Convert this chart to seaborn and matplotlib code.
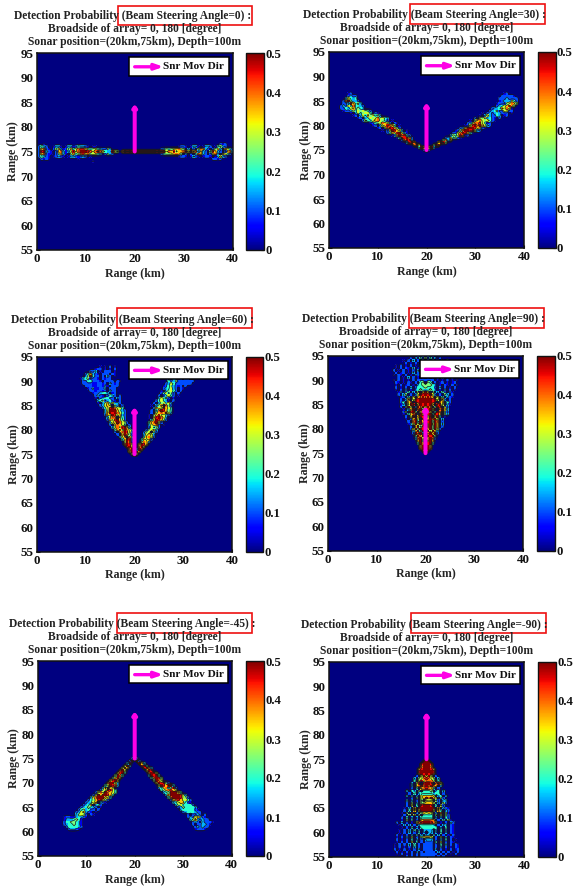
# Detection probability maps for six beam steering angles
import numpy as np
import pandas as pd
import seaborn as sns
from matplotlib import pyplot as plt
from matplotlib.patches import Rectangle

# values on a 0.5 km grid
# one character = one cell, hex digit * 0.05 = probability, '.' = 0
# row format: (range y km, range x km of first cell, cells)
rows_0 = [
    (76.5, 1.5, "1"), (76.5, 37.5, "212"),
    (76, 0.5, "2432..1331.1331243321.11"), (76, 29, "1221.1331.1332.14532"),
    (75.5, 0.5, "27821.257312574689975456432253"), (75.5, 25.5, "2354567865.3.2.58732.2573.7642"),
    (75, 0.5, "29a321.2783136968aaa9868986433965.8a9a9aaaaaaaaa9a9a6879677896a783732.59732.278398432"),
    (74.5, 0.5, "278211.25731.5745897856643.2532"), (74.5, 25.5, "245567875.3.2.48732.2683.7642"),
    (74, 0.5, "24321.12321.13321232.1"), (74, 29, "1221.1321.1221.13632"),
    (73.5, 1, "2121"), (73.5, 8.5, "1"), (73.5, 36, "2212"),
    (73, 11.5, "1"),
]
rows_30 = [
    (75, 19.5, "2a2"),
    (75.5, 18.5, "4a7"), (75.5, 20.5, "6a3"),
    (76, 17.5, "8a6"), (76, 21.5, "5a9"),
    (76.5, 16, "39a8"), (76.5, 22.5, "7a95"),
    (77, 15, "28a93"), (77, 23.5, "5837"),
    (77.5, 14, "14a9a72"), (77.5, 24, "2374521"),
    (78, 13, "137a8942"), (78, 25, "35469812"),
    (78.5, 12, "24769a631"), (78.5, 25.5, "2268a9741"),
    (79, 11, "1.26a9763.1"), (79, 26, "1258aa9a632"),
    (79.5, 10, "12.58a9752"), (79.5, 27, "237aaa97621"),
    (80, 9, "12.3679874.1"), (80, 28, "1269a8a7632"),
    (80.5, 8.5, "124568763.21"), (80.5, 28.5, "2368896412"),
    (81, 7, "25446786542.1"), (81, 29, "1.578656421"),
    (81.5, 6, "12.3465685643"), (81.5, 30, "2.6573421.2"),
    (82, 5, "12.364756453"), (82, 31, "1.3632243.12"),
    (82.5, 4.5, "1.3645664.21"), (82.5, 31.5, "1.232343222.1"),
    (83, 3, "122354656542"), (83, 33, "2345226622"),
    (83.5, 2.5, "2243674543"), (83.5, 33.5, "233476861"),
    (84, 2.5, "2326484432"), (84, 34.5, "23467975"),
    (84.5, 3, "223a7453"), (84.5, 34.5, "122256875"),
    (85, 3, "28a5332"), (85, 35, "12333642"),
    (85.5, 3.5, "36434"), (85.5, 35, "22232222"),
    (86, 4, "2322"), (86, 35.5, "222221"),
    (86.5, 4, "12"), (86.5, 36, "12"),
]
rows_60 = [
    (75, 19.5, "6a6"), (75.5, 19, "7a8a7"),
    (76, 19, "8a3"), (76, 20.5, "3a8"),
    (76.5, 18.5, "9a7"), (76.5, 21, "8a6"),
    (77, 18, "8a96"), (77, 21, "7a97"),
    (77.5, 18, "6a82"), (77.5, 21.5, "6873"),
    (78, 17.5, "47a93"), (78, 21.5, "47672"),
    (78.5, 17, "368.74"), (78.5, 22, "47862"),
    (79, 16.5, "2.7a852"), (79, 22, "36763"),
    (79.5, 16, "2.68a963"), (79.5, 22, "256.52"),
    (80, 16, "4796a864"), (80, 22.5, "25673"),
    (80.5, 15.5, "36869a73"), (80.5, 23, "26452"),
    (81, 15, "2.68764.2"), (81, 23, "36782.1"),
    (81.5, 15, "367a8652"), (81.5, 23, "478a62"),
    (82, 14.5, "2769a752"), (82, 23.5, "47a9752"),
    (82.5, 14.5, "3688.742"), (82.5, 23, "1.69a863"),
    (83, 14, "276a96732"), (83, 23, "1.5796642"),
    (83.5, 14, "37a9a8642"), (83.5, 23.5, "2.6787a63"),
    (84, 14, "36aaa7532"), (84, 23.5, "2.48a9754"),
    (84.5, 13.5, "2469a8664"), (84.5, 24, "3766a764"),
    (85, 13, "23676.53.2"), (85, 23.5, "1.357.852"),
    (85.5, 12.5, "1.35746332"), (85.5, 24, "2.356463"),
    (86, 12.5, "34523421.2"), (86, 24.5, "246431.2"),
    (86.5, 12, "1.234422.32"), (86.5, 25, "36452.1"),
    (87, 12, "2321.2432.2"), (87, 25, "2.24642.1"),
    (87.5, 11.5, "1223443.12"), (87.5, 25.5, "246452.2"),
    (88, 11, "2212212.322"), (88, 25.5, "1.35642.2"),
    (88.5, 10.5, "12311223.222"), (88.5, 26, "234632.21"),
    (89, 10, "2221122131.222"), (89, 26, "12453212.2"),
    (89.5, 9.5, "2222112212.3212"), (89.5, 26.5, "23642222222"),
    (90, 9.5, "22442221.2222.21"), (90, 27, "42352222222"),
    (90.5, 9, "13452221.2122"), (90.5, 26.5, "12.32.2.22"),
    (91, 10, "359422.2.32.1"), (91, 27, "1"),
    (91.5, 10, "247321.222.21"), (92, 11, "223.1.222.1"),
    (92.5, 12, "122.1.1.2"), (93, 13, "1.1.2.1"),
]
# cone shaped maps, each row is centred on the sonar (20 km)
cone_90 = [
    (75, "9"), (75.5, "9a9"), (76, "8a3a8"), (76.5, "7a8a7"),
    (77, "4a7a9a4"), (77.5, "7a5a8a7"), (78, "38a6a7a82"), (78.5, "5a7a5a9a5"),
    (79, "2a8a3a8a7a2"), (79.5, "37a4a8a6a73"), (80, "26a5a9a7a5a62"), (80.5, "2.7a59a8a5a7.2"),
    (81, "136a6a5a8a6a7.3"), (81.5, "2.8a4a7a9a5a8.2"), (82, "1.27a6.9a7a8a6.3"),
    (82.5, "2.6a.7a9a6a.7a4.1"), (83, "1.478a2a7a9a4a97.53"), (83.5, "25.9a5.7a8a7.4a8.52"),
    (84, "1.37a.8a5a9a6a.8a73"), (84.5, "2.5a6.3a8a7a8.5a9.62"), (85, "13.6a9.7a9a9a7.9a6.31"),
    (85.5, "24.78.a9aaaaa9a.87.42"), (86, "2.37.6a9aaaaa9a6.73.2"), (86.5, "12.4.6.78a8a87.6.4.321"),
    (87, "2.35.2.36a9a9a63.2.53.2"), (87.5, "13.24.3.5.7a7.5.3.42.31"), (88, "1.2.3.1.345434543.1.3.2.1"),
    (88.5, "2.1.2.3.244454442.3.2.1.2"), (89, "1.2.12.1.34555543.1.21.2.1"), (89.5, "21.1.21.2.45.54.2.12.1.12"),
    (90, "1.2.1.1.2.2222222.1.1.2.1.1"), (90.5, "2.1.3.2.1.1.1.1.2.3.1.2"), (91, "1.21.2.1.323443233.1.2.12.1"),
    (91.5, "2.12.1.3.212.212.3.2.1.2"), (92, "2.1.2.1.2.3.1.2.1.2.1.2.1.1"),
    (92.5, "1.2.21.3.12.21.2.1.2.1.1"), (93, "1.2.1.2.1.2.3.1.2.12.1.2.1"),
    (93.5, "2.1.2.12.3.2.1.2.1"), (94, "1.2.3.2.4.3.4.2.1.3"), (94.5, "2.3.4.5.4.3.2"), (95, "2.3.3.2"),
]
rows_m45 = [
    (75, 19.5, "2a2"),
    (74.5, 19, "2a"), (74.5, 20.5, "a2"),
    (74, 18.5, "3a"), (74, 21, "a73"),
    (73.5, 18, "6a3"), (73.5, 21.5, "9a4"),
    (73, 17.5, "6a7"), (73, 22, "9a73"),
    (72.5, 17, "8a6"), (72.5, 22.5, "7a9"),
    (72, 16.5, "79a4"), (72, 23, "8aa6"),
    (71.5, 16, "5a84"), (71.5, 23, "3a9a4"),
    (71, 15.5, "47a7"), (71, 23.5, "48a95"),
    (70.5, 15, "79a7"), (70.5, 24, "5a86"),
    (70, 14.5, "8aa63"), (70, 24.5, "7a9a52"),
    (69.5, 14, "46a983"), (69.5, 25, "6a979a3"),
    (69, 13.5, "37.76"), (69, 25, "34784592"),
    (68.5, 13, "256a964"), (68.5, 25.5, "4578976"),
    (68, 12, "2686a8764"), (68, 26, "345aaa74"),
    (67.5, 11.5, "26a7aa974"), (67.5, 26.5, "37aaaa963"),
    (67, 11, "368aaa763"), (67, 27, "48aaa9652"),
    (66.5, 10.5, "24579a752"), (66.5, 27.5, "278976642"),
    (66, 10, "23467.321"), (66, 28, "34677421"),
    (65.5, 9.5, "2347.342"), (65.5, 28.5, "35644442"),
    (65, 9, "2345432.1"), (65, 29, "23544443"),
    (64.5, 8.5, "2453422.2"), (64.5, 29.5, "34444421"),
    (64, 8, "2367321.1"), (64, 30, "23444322"),
    (63.5, 8, "35652.21"), (63.5, 31, "2.2232.2"),
    (63, 5.5, "1221134321"), (63, 31, "23267521"),
    (62.5, 5.5, "13334541"), (62.5, 31.5, "35732322"),
    (62, 5.5, "24455431"), (62, 32, "232.32221"),
    (61.5, 5.5, "23445431"), (61.5, 32, "2.223321"),
    (61, 6, "2444432"), (61, 32.5, "232322"),
    (60.5, 6.5, "23321"), (60.5, 32.5, "12221"),
]
cone_m90 = [
    (75, "a"), (74.5, "aaa"), (74, "9aaa9"), (73.5, "8aaa8"),
    (73, "79aaa97"), (72.5, "9aaaaa9"), (72, "8a9a9a8"), (71.5, "2.6a7a6.2"),
    (71, "3.5689865.3"), (70.5, "4.6968886.4"), (70, "3.69.9aa9.896"), (69.5, "3.78a8a8a87.3"),
    (69, "2.4.789874.2"), (68.5, "3.43.5.4445.34.3"), (68, "2.4.344444344.2"),
    (67.5, "3.4.3.677776.34.3"), (67, "2.5.67a8a76.52"), (66.5, "3.3.2.5.666.52.33"),
    (66, "2.5.3.567776.3.52"), (65.5, "2.6.4.9aaa9.4.62"), (65, "1.3.7.9aaaaa9.7.321"),
    (64.5, "2.4.7.6aaaaa6.74.32"), (64, "1.5.8.3.57676.3.8.51"), (63.5, "2.5.6.5.4444.5.6.52"),
    (63, "2.4.3.3.44444.3.3.42"), (62.5, "1.5.4.2.788887.2.4.51"), (62, "2.3.2.1.689aaa986.1.2.32"),
    (61.5, "1.3.3.2.3444443.2.33.21"), (61, "1.2.4.3.4444444.3.4.21"),
    (60.5, "1.2.3.4.3.3333.3.4.3.21"), (60, "1.2.3.2.4.3.33.3.4.3.21"), (59.5, "2.1.2.3.4.3.33.4.3.2.1.2"),
    (59, "1.2.3.6.2.56776.2.6.3.21"), (58.5, "2.1.2.4.3.2.333.2.3.4.2.1"), (58, "1.2.2.6.4.2.222.4.6.2.21"),
    (57.5, "1.2.2.3.4.2.2222.2.4.3.2.21"), (57, "1.2.1.2.3.2.2222.2.3.2.1.21"), (56.5, "2.1.2.1.2.3.2222.3.2.1.2.12"),
    (56, "2.1.2.2.3.2.2222.3.2.2.1.2"), (55.5, "1.2.1.2.2.2222222.2.2.1.2"), (55, "2.2.2.222222.2.2"),
]
panel_angles = ["0", "30", "60", "90", "-45", "-90"]
subtitle_2 = "Broadside of array= 0, 180 [degree]"
subtitle_3 = "Sonar position=(20km,75km), Depth=100m"
x_tick_values = [0, 10, 20, 30, 40]
y_tick_values = [55, 60, 65, 70, 75, 80, 85, 90, 95]
cbar_tick_values = [0, 0.1, 0.2, 0.3, 0.4, 0.5]
cbar_tick_labels = ["0", "0.1", "0.2", "0.3", "0.4", "0.5"]
cell_km = 0.5


def cone_to_rows(cone):
    out = []
    for y, cells in cone:
        out.append((y, 20 - (len(cells) - 1) * cell_km / 2, cells))
    return out


all_rows = [rows_0, rows_30, rows_60, cone_to_rows(cone_90), rows_m45, cone_to_rows(cone_m90)]


def to_grid(rows):
    n = int(40 / cell_km) + 1
    grid = np.zeros((n, n))
    for y, x0, cells in rows:
        r = int(round((y - 55) / cell_km))
        c0 = int(round(x0 / cell_km))
        for i, ch in enumerate(cells):
            if ch != "." and 0 <= c0 + i < n and 0 <= r < n:
                grid[r, c0 + i] = int(ch, 16) * 0.05
    return grid


def fx(x):
    return x / cell_km + 0.5


def fy(y):
    return (y - 55) / cell_km + 0.5


# pixel boxes: axes (left, top, right, bottom), colourbar (left, right), red box (l, t, r, b)
W, H = 573, 886
axes_px = [(36.7, 53, 232.7, 250), (329, 52, 524, 248), (37, 356.7, 232, 551.7),
           (328, 355.7, 523, 550.7), (37.7, 661, 231.7, 856), (329, 661.7, 524, 856.7)]
cbar_px = [(246, 264), (537.7, 555.7), (245.5, 263), (537, 555), (246.3, 264), (538, 556)]
red_px = [(118, 6, 252, 25), (410, 4.3, 545, 24.3), (117, 308, 252, 328),
          (409, 308, 544, 328), (117, 613, 252, 633), (410.7, 613, 545.7, 633)]

sns.set_theme(style="white")
plt.rcParams["font.family"] = ["Liberation Serif", "DejaVu Serif"]
plt.rcParams["font.weight"] = "bold"
plt.rcParams["axes.labelweight"] = "bold"

fig = plt.figure(figsize=(W / 100, H / 100), dpi=100)


def px_box(l, t, r, b):
    return [l / W, 1 - b / H, (r - l) / W, (b - t) / H]


for k in range(6):
    l, t, r, b = axes_px[k]
    ax = fig.add_axes(px_box(l, t, r, b))
    cax = fig.add_axes(px_box(cbar_px[k][0], t, cbar_px[k][1], b))
    grid = to_grid(all_rows[k])
    df = pd.DataFrame(grid)
    sns.heatmap(df, ax=ax, cmap="jet", vmin=0, vmax=0.5, cbar_ax=cax,
                xticklabels=False, yticklabels=False,
                cbar_kws={"ticks": cbar_tick_values})
    # black contour lines on top, as in the source figure
    ax.contour(np.arange(grid.shape[1]) + 0.5, np.arange(grid.shape[0]) + 0.5, grid,
               levels=[0.03, 0.12, 0.22, 0.32, 0.42], colors="k", linewidths=0.5)
    ax.set_xlim(fx(0), fx(40))
    ax.set_ylim(fy(55), fy(95))
    ax.set_xticks([fx(v) for v in x_tick_values])
    ax.set_xticklabels([str(v) for v in x_tick_values], fontsize=9.4, fontweight="bold")
    ax.set_yticks([fy(v) for v in y_tick_values])
    ax.set_yticklabels([str(v) for v in y_tick_values], fontsize=9.4, fontweight="bold")
    ax.tick_params(direction="in", length=2, width=0.8, pad=2.5, bottom=True, left=True, colors="#111111")
    ax.set_xlabel("Range (km)", fontsize=8.6, fontweight="bold", labelpad=1.5)
    ax.set_ylabel("Range (km)", fontsize=8.6, fontweight="bold", labelpad=0.5)
    for s in ax.spines.values():
        s.set_visible(True)
        s.set_linewidth(1.1)
        s.set_color("#111111")

    cb = ax.collections[0].colorbar
    cb.set_ticklabels(cbar_tick_labels, fontsize=9.2, fontweight="bold")
    cb.ax.tick_params(direction="in", length=2, width=0.8, pad=0.8, right=True, colors="#111111")
    cb.outline.set_visible(True)
    cb.outline.set_linewidth(1.0)
    cb.outline.set_edgecolor("#111111")

    # direction of motion arrow
    ax.annotate("", xy=(fx(20), fy(84.6)), xytext=(fx(20), fy(75)),
                arrowprops=dict(arrowstyle="-|>,head_width=0.09,head_length=0.12", color="#FF00E6",
                                lw=2.9, shrinkA=0, shrinkB=0))

    # legend box with sample arrow
    ax.add_patch(Rectangle((fx(18.9), fy(90.4)), (39.2 - 18.9) / cell_km, (94.1 - 90.4) / cell_km,
                           facecolor="white", edgecolor="black", lw=1.1, zorder=5))
    ax.annotate("", xy=(fx(25.9), fy(92.2)), xytext=(fx(20), fy(92.2)), zorder=6,
                arrowprops=dict(arrowstyle="-|>,head_width=0.14,head_length=0.4", color="#FF00E6",
                                lw=2.4, shrinkA=0, shrinkB=0))
    ax.text(fx(25.8), fy(92.2), "Snr Mov Dir", fontsize=8.1, fontweight="bold", va="center", ha="left",
            color="#111111", zorder=6)

    # three line title
    cx = (l + r) / 2
    fig.text((cx - 2) / W, 1 - (t - 37) / H, f"Detection Probability (Beam Steering Angle={panel_angles[k]}) :",
             fontsize=8.3, fontweight="bold", ha="center", va="center", color="#222222")
    fig.text(cx / W, 1 - (t - 24) / H, subtitle_2, fontsize=8.3, fontweight="bold",
             ha="center", va="center", color="#222222")
    fig.text(cx / W, 1 - (t - 11) / H, subtitle_3, fontsize=8.3, fontweight="bold",
             ha="center", va="center", color="#222222")

    # red highlight around the steering angle
    rl, rt, rr, rb = red_px[k]
    fig.add_artist(Rectangle((rl / W, 1 - rb / H), (rr - rl) / W, (rb - rt) / H, fill=False,
                             edgecolor="#EE1111", lw=1.2, transform=fig.transFigure))

fig.savefig("out.png", dpi=100, facecolor="white")
